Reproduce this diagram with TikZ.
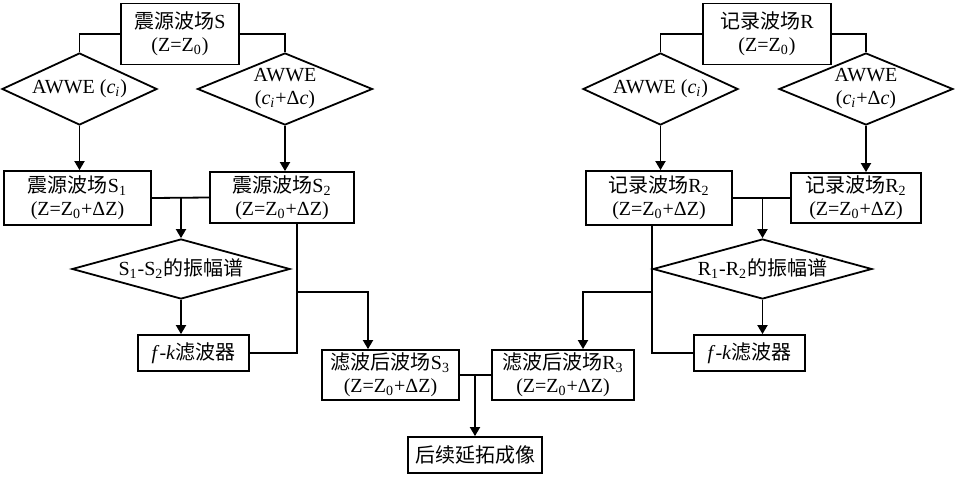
\documentclass[tikz,border=0pt]{standalone}
\usepackage{fontspec}
\setmainfont{Liberation Serif}
\newfontfamily\cjk{Noto Sans CJK SC}
\newcommand{\zh}[1]{{\cjk #1}}
\newcommand{\subs}[1]{\textsubscript{#1}}
\newcommand{\zdz}{(Z=Z\subs{0}+ΔZ)}
\usetikzlibrary{shapes.geometric,arrows.meta}

\begin{document}
\begin{tikzpicture}[x=0.5pt,y=-0.5pt,
        font=\fontsize{10}{11.5}\selectfont,
        every node/.style={align=center,inner sep=0pt},
        box/.style={draw,line width=0.9pt},
        dia/.style={draw,line width=0.9pt,diamond},
        line/.style={line width=0.9pt},
        arr/.style={line width=0.9pt,-{Triangle[length=4.5pt,width=5pt]}}]
        \useasboundingbox (0,0) rectangle (960,478);
        % Source side
        \node[box,minimum width=59pt,minimum height=30.5pt] (srcS) at (180,34) {\zh{震源波场}S\\(Z=Z\subs{0})};
        \node[dia,aspect=2.15,minimum width=77.5pt,minimum height=36pt] (awS1) at (79.5,89) {AWWE (\textit{c}\subs{\textit{i}})};
        \node[dia,aspect=2.43,minimum width=87.5pt,minimum height=36pt] (awS2) at (285,89) {AWWE\\(\textit{c}\subs{\textit{i}}+Δ\textit{c})};
        \node[box,minimum width=73.5pt,minimum height=27pt] (S1) at (77.5,198) {\zh{震源波场}S\subs{1}\\\zdz};
        \node[box,minimum width=72pt,minimum height=25.5pt] (S2) at (282,197.5) {\zh{震源波场}S\subs{2}\\\zdz};
        \node[dia,aspect=3.63,minimum width=109pt,minimum height=30pt] (ampS) at (181,269) {S\subs{1}-S\subs{2}\zh{的振幅谱}};
        \node[box,minimum width=55.5pt,minimum height=18pt] (fkS) at (193.5,353) {\textit{f}-\textit{k}\zh{滤波器}};
        \node[box,minimum width=68.5pt,minimum height=25pt] (S3) at (390.5,375) {\zh{滤波后波场}S\subs{3}\\\zdz};
        % Receiver side
        \node[box,minimum width=64pt,minimum height=30.5pt] (recR) at (767,34) {\zh{记录波场}R\\(Z=Z\subs{0})};
        \node[dia,aspect=2.15,minimum width=77.5pt,minimum height=36pt] (awR1) at (660.5,89) {AWWE (\textit{c}\subs{\textit{i}})};
        \node[dia,aspect=2.43,minimum width=87pt,minimum height=36pt] (awR2) at (866,89) {AWWE\\(\textit{c}\subs{\textit{i}}+Δ\textit{c})};
        \node[box,minimum width=73pt,minimum height=27pt] (R2a) at (659,198) {\zh{记录波场}R\subs{2}\\\zdz};
        \node[box,minimum width=65pt,minimum height=25pt] (R2b) at (856,198) {\zh{记录波场}R\subs{2}\\\zdz};
        \node[dia,aspect=3.65,minimum width=109.5pt,minimum height=30pt] (ampR) at (762.5,269) {R\subs{1}-R\subs{2}\zh{的振幅谱}};
        \node[box,minimum width=55.5pt,minimum height=18pt] (fkR) at (749.5,353) {\textit{f}-\textit{k}\zh{滤波器}};
        \node[box,minimum width=71pt,minimum height=25pt] (R3) at (563,375) {\zh{滤波后波场}R\subs{3}\\\zdz};
        % Output
        \node[box,minimum width=67pt,minimum height=18pt] (final) at (475,455) {\zh{后续延拓成像}};

        % Source connectors
        \draw[line] (srcS.west) -| (awS1.north);
        \draw[line] (srcS.east) -| (awS2.north);
        \draw[arr] (awS1.south) -- (awS1.south |- S1.north);
        \draw[arr] (awS2.south) -- (awS2.south |- S2.north);
        \draw[line] (S1.east) -- (S2.west);
        \draw[arr] (ampS.north |- S1.east) -- (ampS.north);
        \draw[arr] (ampS.south) -- (ampS.south |- fkS.north);
        \coordinate (jS) at (297,292);
        \coordinate (aS) at (368,292);
        \draw[line] (jS |- S2.south) -- (jS |- fkS.east) -- (fkS.east);
        \draw[arr] (jS) -- (aS) -- (aS |- S3.north);
        % Receiver connectors
        \draw[line] (recR.west) -| (awR1.north);
        \draw[line] (recR.east) -| (awR2.north);
        \draw[arr] (awR1.south) -- (awR1.south |- R2a.north);
        \draw[arr] (awR2.south) -- (awR2.south |- R2b.north);
        \draw[line] (R2a.east) -- (R2b.west);
        \draw[arr] (ampR.north |- R2a.east) -- (ampR.north);
        \draw[arr] (ampR.south) -- (ampR.south |- fkR.north);
        \coordinate (jR) at (652,292);
        \coordinate (aR) at (583,292);
        \draw[line] (jR |- R2a.south) -- (jR |- fkR.west) -- (fkR.west);
        \draw[arr] (jR) -- (aR) -- (aR |- R3.north);
        % Merge
        \draw[line] (S3.east) -- (R3.west);
        \draw[arr] (final.north |- S3.east) -- (final.north);
    \end{tikzpicture}
\end{document}
